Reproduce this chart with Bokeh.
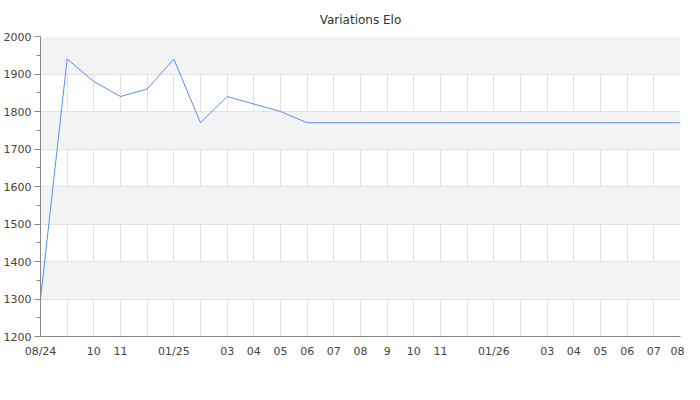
from bokeh.plotting import figure
from bokeh.models import ColumnDataSource, Range1d, FixedTicker, SingleIntervalTicker
from bokeh.embed import file_html
from bokeh.resources import INLINE

# month index from 08/24 to 08/26
months = list(range(25))
month_labels = ["08/24", "", "10", "11", "", "01/25", "", "03", "04", "05", "06", "07",
                "08", "9", "10", "11", "", "01/26", "", "03", "04", "05", "06", "07", "08"]
elo = [1300, 1940, 1880, 1840, 1860, 1940, 1770, 1840, 1820, 1800, 1770, 1770, 1770,
       1770, 1770, 1770, 1770, 1770, 1770, 1770, 1770, 1770, 1770, 1770, 1770]

source = ColumnDataSource(data=dict(x=months, y=elo))

p = figure(title="Variations Elo", frame_width=640, frame_height=300,
           x_range=Range1d(0, 24), y_range=Range1d(1200, 2000),
           output_backend="svg", toolbar_location=None,
           min_border_left=32, min_border_right=4, min_border_top=36, min_border_bottom=40)

p.title.align = "center"
p.title.text_font = "DejaVu Sans"
p.title.text_font_size = "12px"
p.title.text_font_style = "normal"
p.title.text_color = "#333333"
p.title.standoff = 20

p.background_fill_color = "white"
p.outline_line_color = None

p.xaxis.ticker = FixedTicker(ticks=months)
p.xaxis.major_label_overrides = {m: lab for m, lab in zip(months, month_labels)}
p.yaxis.ticker = SingleIntervalTicker(interval=100, num_minor_ticks=2)

for ax in (p.xaxis[0], p.yaxis[0]):
    ax.axis_line_color = "#888888"
    ax.major_tick_line_color = "#888888"
    ax.minor_tick_line_color = "#888888"
    ax.major_label_text_font = "DejaVu Sans"
    ax.major_label_text_font_size = "11px"
    ax.major_label_text_color = "#444444"
    ax.major_tick_in = 0
    ax.minor_tick_in = 0

p.xaxis.major_tick_out = 0
p.xaxis.minor_tick_out = 0
p.xaxis.major_label_standoff = 8
p.yaxis.major_tick_out = 6
p.yaxis.minor_tick_out = 4
p.yaxis.major_label_standoff = 3

p.xgrid.grid_line_color = "#e2e2e2"
p.ygrid.grid_line_color = "#e2e2e2"
p.ygrid.band_fill_color = "#f3f3f3"
p.ygrid.band_fill_alpha = 1.0

p.line("x", "y", source=source, line_color="#5b8def", line_width=1)

open("out.html", "w").write(file_html(p, INLINE))
